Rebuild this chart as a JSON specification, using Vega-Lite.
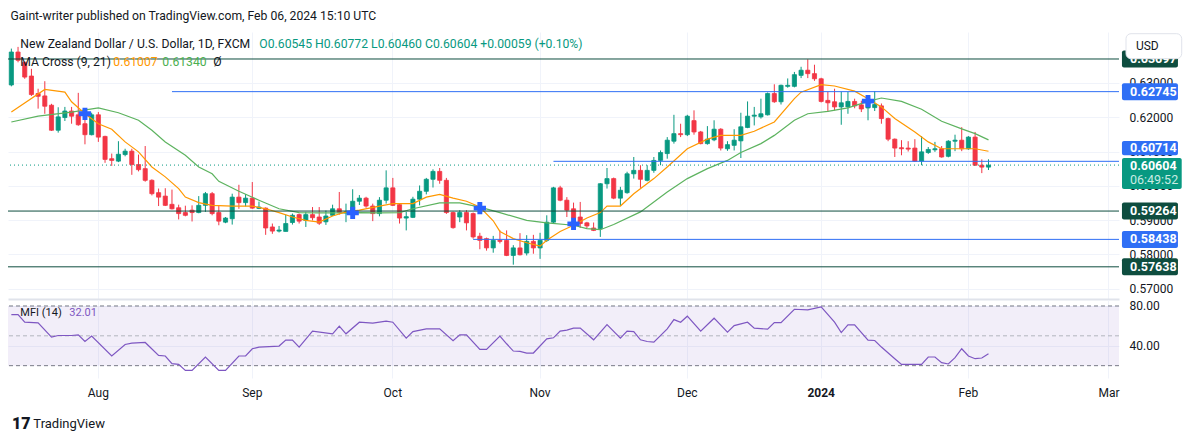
{
  "$schema": "https://vega.github.io/schema/vega-lite/v6.json",
  "background": "white",
  "padding": {"left": 7, "top": 9, "right": 0, "bottom": 0},
  "title": {"text": "Gaint-writer published on TradingView.com, Feb 06, 2024 15:10 UTC", "anchor": "start", "frame": "bounds", "font": "Roboto", "fontSize": 12.2, "fontWeight": "normal", "color": "#131722", "offset": 10, "dx": 3},
  "datasets": {
    "one": [{}],
    "candles": [
      {"d":"2023-07-13","o":0.6294,"h":0.6400,"l":0.6290,"c":0.6390},
      {"d":"2023-07-14","o":0.6390,"h":0.6405,"l":0.6360,"c":0.6366},
      {"d":"2023-07-17","o":0.6360,"h":0.6362,"l":0.6312,"c":0.6317},
      {"d":"2023-07-18","o":0.6320,"h":0.6341,"l":0.6262,"c":0.6266},
      {"d":"2023-07-19","o":0.6269,"h":0.6283,"l":0.6225,"c":0.6261},
      {"d":"2023-07-20","o":0.6262,"h":0.6305,"l":0.6210,"c":0.6232},
      {"d":"2023-07-21","o":0.6235,"h":0.6239,"l":0.6160,"c":0.6162},
      {"d":"2023-07-24","o":0.6162,"h":0.6229,"l":0.6155,"c":0.6201},
      {"d":"2023-07-25","o":0.6199,"h":0.6230,"l":0.6189,"c":0.6218},
      {"d":"2023-07-26","o":0.6218,"h":0.6230,"l":0.6181,"c":0.6203},
      {"d":"2023-07-27","o":0.6207,"h":0.6271,"l":0.6175,"c":0.6178},
      {"d":"2023-07-28","o":0.6181,"h":0.6192,"l":0.6121,"c":0.6149},
      {"d":"2023-07-31","o":0.6149,"h":0.6213,"l":0.6147,"c":0.6207},
      {"d":"2023-08-01","o":0.6207,"h":0.6215,"l":0.6128,"c":0.6142},
      {"d":"2023-08-02","o":0.6144,"h":0.6146,"l":0.6067,"c":0.6077},
      {"d":"2023-08-03","o":0.6079,"h":0.6094,"l":0.6058,"c":0.6074},
      {"d":"2023-08-04","o":0.6072,"h":0.6130,"l":0.6069,"c":0.6092},
      {"d":"2023-08-07","o":0.6091,"h":0.6108,"l":0.6086,"c":0.6101},
      {"d":"2023-08-08","o":0.6101,"h":0.6108,"l":0.6032,"c":0.6062},
      {"d":"2023-08-09","o":0.6062,"h":0.6091,"l":0.6042,"c":0.6047},
      {"d":"2023-08-10","o":0.6050,"h":0.6116,"l":0.6012,"c":0.6016},
      {"d":"2023-08-11","o":0.6016,"h":0.6019,"l":0.5972,"c":0.5977},
      {"d":"2023-08-14","o":0.5980,"h":0.5992,"l":0.5941,"c":0.5967},
      {"d":"2023-08-15","o":0.5970,"h":0.5993,"l":0.5941,"c":0.5943},
      {"d":"2023-08-16","o":0.5946,"h":0.5989,"l":0.5931,"c":0.5933},
      {"d":"2023-08-17","o":0.5936,"h":0.5945,"l":0.5902,"c":0.5919},
      {"d":"2023-08-18","o":0.5922,"h":0.5942,"l":0.5911,"c":0.5914},
      {"d":"2023-08-21","o":0.5929,"h":0.5943,"l":0.5896,"c":0.5922},
      {"d":"2023-08-22","o":0.5922,"h":0.5970,"l":0.5920,"c":0.5943},
      {"d":"2023-08-23","o":0.5943,"h":0.5982,"l":0.5924,"c":0.5977},
      {"d":"2023-08-24","o":0.5977,"h":0.5982,"l":0.5914,"c":0.5919},
      {"d":"2023-08-25","o":0.5922,"h":0.5941,"l":0.5885,"c":0.5897},
      {"d":"2023-08-28","o":0.5894,"h":0.5909,"l":0.5891,"c":0.5906},
      {"d":"2023-08-29","o":0.5904,"h":0.5977,"l":0.5887,"c":0.5967},
      {"d":"2023-08-30","o":0.5967,"h":0.6003,"l":0.5933,"c":0.5951},
      {"d":"2023-08-31","o":0.5951,"h":0.5976,"l":0.5940,"c":0.5964},
      {"d":"2023-09-01","o":0.5964,"h":0.6011,"l":0.5933,"c":0.5935},
      {"d":"2023-09-04","o":0.5934,"h":0.5954,"l":0.5932,"c":0.5938},
      {"d":"2023-09-05","o":0.5935,"h":0.5937,"l":0.5857,"c":0.5877},
      {"d":"2023-09-06","o":0.5880,"h":0.5890,"l":0.5860,"c":0.5868},
      {"d":"2023-09-07","o":0.5868,"h":0.5883,"l":0.5864,"c":0.5871},
      {"d":"2023-09-08","o":0.5867,"h":0.5916,"l":0.5867,"c":0.5890},
      {"d":"2023-09-11","o":0.5893,"h":0.5919,"l":0.5887,"c":0.5914},
      {"d":"2023-09-12","o":0.5916,"h":0.5919,"l":0.5890,"c":0.5897},
      {"d":"2023-09-13","o":0.5899,"h":0.5924,"l":0.5880,"c":0.5916},
      {"d":"2023-09-14","o":0.5916,"h":0.5938,"l":0.5899,"c":0.5907},
      {"d":"2023-09-15","o":0.5909,"h":0.5938,"l":0.5886,"c":0.5891},
      {"d":"2023-09-18","o":0.5895,"h":0.5928,"l":0.5886,"c":0.5912},
      {"d":"2023-09-19","o":0.5914,"h":0.5945,"l":0.5912,"c":0.5933},
      {"d":"2023-09-20","o":0.5933,"h":0.5982,"l":0.5916,"c":0.5922},
      {"d":"2023-09-21","o":0.5921,"h":0.5948,"l":0.5894,"c":0.5924},
      {"d":"2023-09-22","o":0.5919,"h":0.5990,"l":0.5917,"c":0.5955},
      {"d":"2023-09-25","o":0.5955,"h":0.5973,"l":0.5944,"c":0.5964},
      {"d":"2023-09-26","o":0.5964,"h":0.5968,"l":0.5936,"c":0.5941},
      {"d":"2023-09-27","o":0.5941,"h":0.5948,"l":0.5897,"c":0.5919},
      {"d":"2023-09-28","o":0.5919,"h":0.5967,"l":0.5911,"c":0.5958},
      {"d":"2023-09-29","o":0.5958,"h":0.6045,"l":0.5948,"c":0.5994},
      {"d":"2023-10-02","o":0.5994,"h":0.6023,"l":0.5941,"c":0.5943},
      {"d":"2023-10-03","o":0.5945,"h":0.5948,"l":0.5890,"c":0.5906},
      {"d":"2023-10-04","o":0.5906,"h":0.5924,"l":0.5870,"c":0.5910},
      {"d":"2023-10-05","o":0.5908,"h":0.5968,"l":0.5906,"c":0.5961},
      {"d":"2023-10-06","o":0.5961,"h":0.6001,"l":0.5943,"c":0.5984},
      {"d":"2023-10-09","o":0.5984,"h":0.6023,"l":0.5975,"c":0.6019},
      {"d":"2023-10-10","o":0.6019,"h":0.6048,"l":0.5995,"c":0.6042},
      {"d":"2023-10-11","o":0.6042,"h":0.6052,"l":0.6006,"c":0.6016},
      {"d":"2023-10-12","o":0.6016,"h":0.6023,"l":0.5918,"c":0.5922},
      {"d":"2023-10-13","o":0.5922,"h":0.5925,"l":0.5875,"c":0.5878},
      {"d":"2023-10-16","o":0.5909,"h":0.5929,"l":0.5894,"c":0.5922},
      {"d":"2023-10-17","o":0.5922,"h":0.5929,"l":0.5870,"c":0.5892},
      {"d":"2023-10-18","o":0.5919,"h":0.5922,"l":0.5846,"c":0.5851},
      {"d":"2023-10-19","o":0.5853,"h":0.5863,"l":0.5815,"c":0.5841},
      {"d":"2023-10-20","o":0.5846,"h":0.5849,"l":0.5811,"c":0.5819},
      {"d":"2023-10-23","o":0.5819,"h":0.5854,"l":0.5805,"c":0.5841},
      {"d":"2023-10-24","o":0.5841,"h":0.5870,"l":0.5832,"c":0.5838},
      {"d":"2023-10-25","o":0.5841,"h":0.5870,"l":0.5795,"c":0.5797},
      {"d":"2023-10-26","o":0.5797,"h":0.5827,"l":0.5770,"c":0.5819},
      {"d":"2023-10-27","o":0.5819,"h":0.5862,"l":0.5797,"c":0.5799},
      {"d":"2023-10-30","o":0.5804,"h":0.5856,"l":0.5797,"c":0.5838},
      {"d":"2023-10-31","o":0.5838,"h":0.5857,"l":0.5802,"c":0.5819},
      {"d":"2023-11-01","o":0.5819,"h":0.5863,"l":0.5787,"c":0.5841},
      {"d":"2023-11-02","o":0.5841,"h":0.5914,"l":0.5836,"c":0.5894},
      {"d":"2023-11-03","o":0.5894,"h":0.5997,"l":0.5890,"c":0.5994},
      {"d":"2023-11-06","o":0.5994,"h":0.6000,"l":0.5955,"c":0.5958},
      {"d":"2023-11-07","o":0.5958,"h":0.5967,"l":0.5909,"c":0.5929},
      {"d":"2023-11-08","o":0.5933,"h":0.5951,"l":0.5890,"c":0.5906},
      {"d":"2023-11-09","o":0.5909,"h":0.5953,"l":0.5877,"c":0.5890},
      {"d":"2023-11-10","o":0.5892,"h":0.5895,"l":0.5876,"c":0.5883},
      {"d":"2023-11-13","o":0.5877,"h":0.5893,"l":0.5868,"c":0.5870},
      {"d":"2023-11-14","o":0.5875,"h":0.6008,"l":0.5851,"c":0.6006},
      {"d":"2023-11-15","o":0.6006,"h":0.6052,"l":0.5992,"c":0.6021},
      {"d":"2023-11-16","o":0.6021,"h":0.6024,"l":0.5961,"c":0.5964},
      {"d":"2023-11-17","o":0.5964,"h":0.5997,"l":0.5941,"c":0.5987},
      {"d":"2023-11-20","o":0.5980,"h":0.6041,"l":0.5977,"c":0.6035},
      {"d":"2023-11-21","o":0.6035,"h":0.6084,"l":0.6021,"c":0.6045},
      {"d":"2023-11-22","o":0.6045,"h":0.6060,"l":0.5994,"c":0.6019},
      {"d":"2023-11-23","o":0.6016,"h":0.6060,"l":0.6013,"c":0.6045},
      {"d":"2023-11-24","o":0.6045,"h":0.6084,"l":0.6038,"c":0.6074},
      {"d":"2023-11-27","o":0.6074,"h":0.6103,"l":0.6060,"c":0.6097},
      {"d":"2023-11-28","o":0.6094,"h":0.6142,"l":0.6079,"c":0.6133},
      {"d":"2023-11-29","o":0.6130,"h":0.6207,"l":0.6123,"c":0.6152},
      {"d":"2023-11-30","o":0.6152,"h":0.6181,"l":0.6142,"c":0.6149},
      {"d":"2023-12-01","o":0.6149,"h":0.6207,"l":0.6145,"c":0.6203},
      {"d":"2023-12-04","o":0.6190,"h":0.6220,"l":0.6149,"c":0.6157},
      {"d":"2023-12-05","o":0.6157,"h":0.6160,"l":0.6121,"c":0.6123},
      {"d":"2023-12-06","o":0.6123,"h":0.6174,"l":0.6120,"c":0.6136},
      {"d":"2023-12-07","o":0.6134,"h":0.6191,"l":0.6130,"c":0.6165},
      {"d":"2023-12-08","o":0.6165,"h":0.6168,"l":0.6103,"c":0.6110},
      {"d":"2023-12-11","o":0.6108,"h":0.6130,"l":0.6102,"c":0.6120},
      {"d":"2023-12-12","o":0.6118,"h":0.6165,"l":0.6103,"c":0.6133},
      {"d":"2023-12-13","o":0.6131,"h":0.6213,"l":0.6081,"c":0.6172},
      {"d":"2023-12-14","o":0.6170,"h":0.6246,"l":0.6168,"c":0.6203},
      {"d":"2023-12-15","o":0.6203,"h":0.6230,"l":0.6176,"c":0.6206},
      {"d":"2023-12-18","o":0.6201,"h":0.6254,"l":0.6196,"c":0.6210},
      {"d":"2023-12-19","o":0.6207,"h":0.6272,"l":0.6205,"c":0.6269},
      {"d":"2023-12-20","o":0.6269,"h":0.6296,"l":0.6242,"c":0.6245},
      {"d":"2023-12-21","o":0.6245,"h":0.6295,"l":0.6237,"c":0.6293},
      {"d":"2023-12-22","o":0.6290,"h":0.6313,"l":0.6286,"c":0.6293},
      {"d":"2023-12-26","o":0.6290,"h":0.6332,"l":0.6287,"c":0.6324},
      {"d":"2023-12-27","o":0.6322,"h":0.6347,"l":0.6314,"c":0.6337},
      {"d":"2023-12-28","o":0.6337,"h":0.6369,"l":0.6314,"c":0.6327},
      {"d":"2023-12-29","o":0.6327,"h":0.6353,"l":0.6306,"c":0.6312},
      {"d":"2024-01-02","o":0.6312,"h":0.6315,"l":0.6243,"c":0.6246},
      {"d":"2024-01-03","o":0.6249,"h":0.6274,"l":0.6217,"c":0.6242},
      {"d":"2024-01-04","o":0.6245,"h":0.6283,"l":0.6220,"c":0.6230},
      {"d":"2024-01-05","o":0.6230,"h":0.6274,"l":0.6178,"c":0.6242},
      {"d":"2024-01-08","o":0.6230,"h":0.6274,"l":0.6210,"c":0.6246},
      {"d":"2024-01-09","o":0.6246,"h":0.6254,"l":0.6226,"c":0.6233},
      {"d":"2024-01-10","o":0.6236,"h":0.6248,"l":0.6215,"c":0.6224},
      {"d":"2024-01-11","o":0.6227,"h":0.6264,"l":0.6191,"c":0.6250},
      {"d":"2024-01-12","o":0.6228,"h":0.6276,"l":0.6218,"c":0.6237},
      {"d":"2024-01-15","o":0.6233,"h":0.6240,"l":0.6181,"c":0.6196},
      {"d":"2024-01-16","o":0.6196,"h":0.6199,"l":0.6130,"c":0.6136},
      {"d":"2024-01-17","o":0.6136,"h":0.6138,"l":0.6084,"c":0.6110},
      {"d":"2024-01-18","o":0.6111,"h":0.6133,"l":0.6089,"c":0.6108},
      {"d":"2024-01-19","o":0.6110,"h":0.6130,"l":0.6100,"c":0.6107},
      {"d":"2024-01-22","o":0.6110,"h":0.6136,"l":0.6070,"c":0.6072},
      {"d":"2024-01-23","o":0.6072,"h":0.6145,"l":0.6060,"c":0.6099},
      {"d":"2024-01-24","o":0.6097,"h":0.6113,"l":0.6093,"c":0.6106},
      {"d":"2024-01-25","o":0.6105,"h":0.6128,"l":0.6099,"c":0.6108},
      {"d":"2024-01-26","o":0.6108,"h":0.6116,"l":0.6082,"c":0.6084},
      {"d":"2024-01-29","o":0.6086,"h":0.6133,"l":0.6083,"c":0.6130},
      {"d":"2024-01-30","o":0.6130,"h":0.6149,"l":0.6101,"c":0.6133},
      {"d":"2024-01-31","o":0.6133,"h":0.6171,"l":0.6101,"c":0.6108},
      {"d":"2024-02-01","o":0.6108,"h":0.6145,"l":0.6105,"c":0.6142},
      {"d":"2024-02-02","o":0.6142,"h":0.6157,"l":0.6058,"c":0.6060},
      {"d":"2024-02-05","o":0.6060,"h":0.6077,"l":0.6037,"c":0.60545},
      {"d":"2024-02-06","o":0.60545,"h":0.60772,"l":0.60460,"c":0.60604}
    ],
    "ma9": [
      {"d":"2023-07-13","v":0.6215},{"d":"2023-07-20","v":0.6281},{"d":"2023-07-25","v":0.6273},{"d":"2023-07-26","v":0.6245},
      {"d":"2023-07-28","v":0.6210},{"d":"2023-08-01","v":0.6181},{"d":"2023-08-03","v":0.6165},{"d":"2023-08-07","v":0.6128},
      {"d":"2023-08-09","v":0.6099},{"d":"2023-08-11","v":0.6055},{"d":"2023-08-15","v":0.6026},{"d":"2023-08-17","v":0.5992},
      {"d":"2023-08-18","v":0.5967},{"d":"2023-08-22","v":0.5951},{"d":"2023-08-24","v":0.5943},{"d":"2023-08-29","v":0.5941},
      {"d":"2023-09-01","v":0.5941},{"d":"2023-09-05","v":0.5933},{"d":"2023-09-07","v":0.5922},{"d":"2023-09-11","v":0.5909},
      {"d":"2023-09-13","v":0.5899},{"d":"2023-09-15","v":0.5894},{"d":"2023-09-19","v":0.5912},{"d":"2023-09-21","v":0.5924},
      {"d":"2023-09-25","v":0.5929},{"d":"2023-09-28","v":0.5941},{"d":"2023-10-02","v":0.5948},{"d":"2023-10-05","v":0.5948},
      {"d":"2023-10-09","v":0.5967},{"d":"2023-10-11","v":0.5975},{"d":"2023-10-13","v":0.5964},{"d":"2023-10-17","v":0.5955},
      {"d":"2023-10-19","v":0.5938},{"d":"2023-10-23","v":0.5898},{"d":"2023-10-24","v":0.5867},{"d":"2023-10-26","v":0.5846},
      {"d":"2023-10-30","v":0.5834},{"d":"2023-11-01","v":0.5824},{"d":"2023-11-02","v":0.5841},{"d":"2023-11-06","v":0.5867},
      {"d":"2023-11-08","v":0.5885},{"d":"2023-11-10","v":0.5906},{"d":"2023-11-14","v":0.5922},{"d":"2023-11-15","v":0.5941},
      {"d":"2023-11-17","v":0.5941},{"d":"2023-11-21","v":0.5977},{"d":"2023-11-24","v":0.6021},{"d":"2023-11-28","v":0.6055},
      {"d":"2023-12-01","v":0.6108},{"d":"2023-12-06","v":0.6136},{"d":"2023-12-08","v":0.6147},{"d":"2023-12-13","v":0.6147},
      {"d":"2023-12-15","v":0.6159},{"d":"2023-12-20","v":0.6186},{"d":"2023-12-26","v":0.6254},{"d":"2023-12-27","v":0.6273},
      {"d":"2024-01-02","v":0.6295},{"d":"2024-01-04","v":0.6291},{"d":"2024-01-09","v":0.6276},{"d":"2024-01-11","v":0.6254},
      {"d":"2024-01-15","v":0.6230},{"d":"2024-01-17","v":0.6196},{"d":"2024-01-22","v":0.6157},{"d":"2024-01-24","v":0.6128},
      {"d":"2024-01-26","v":0.6108},{"d":"2024-01-31","v":0.6108},{"d":"2024-02-02","v":0.6108},{"d":"2024-02-06","v":0.61007}
    ],
    "ma21": [
      {"d":"2023-07-13","v":0.6186},{"d":"2023-07-19","v":0.6203},{"d":"2023-07-26","v":0.6215},{"d":"2023-08-01","v":0.6227},
      {"d":"2023-08-04","v":0.6213},{"d":"2023-08-09","v":0.6191},{"d":"2023-08-11","v":0.6162},{"d":"2023-08-15","v":0.6128},
      {"d":"2023-08-18","v":0.6089},{"d":"2023-08-22","v":0.6055},{"d":"2023-08-24","v":0.6035},{"d":"2023-08-25","v":0.6013},
      {"d":"2023-08-30","v":0.5984},{"d":"2023-09-04","v":0.5958},{"d":"2023-09-07","v":0.5933},{"d":"2023-09-12","v":0.5922},
      {"d":"2023-09-15","v":0.5921},{"d":"2023-09-20","v":0.5921},{"d":"2023-09-25","v":0.5922},{"d":"2023-09-28","v":0.5921},
      {"d":"2023-10-03","v":0.5922},{"d":"2023-10-05","v":0.5933},{"d":"2023-10-11","v":0.5950},{"d":"2023-10-16","v":0.5950},
      {"d":"2023-10-19","v":0.5938},{"d":"2023-10-24","v":0.5922},{"d":"2023-10-30","v":0.5899},{"d":"2023-11-02","v":0.5892},
      {"d":"2023-11-08","v":0.5885},{"d":"2023-11-10","v":0.5875},{"d":"2023-11-14","v":0.5872},{"d":"2023-11-16","v":0.5887},
      {"d":"2023-11-22","v":0.5924},{"d":"2023-11-28","v":0.5982},{"d":"2023-12-01","v":0.6021},{"d":"2023-12-06","v":0.6050},
      {"d":"2023-12-11","v":0.6074},{"d":"2023-12-13","v":0.6097},{"d":"2023-12-18","v":0.6123},{"d":"2023-12-20","v":0.6147},
      {"d":"2023-12-26","v":0.6191},{"d":"2023-12-28","v":0.6210},{"d":"2024-01-03","v":0.6217},{"d":"2024-01-08","v":0.6227},
      {"d":"2024-01-11","v":0.6246},{"d":"2024-01-15","v":0.6256},{"d":"2024-01-18","v":0.6246},{"d":"2024-01-23","v":0.6223},
      {"d":"2024-01-26","v":0.6188},{"d":"2024-01-31","v":0.6166},{"d":"2024-02-02","v":0.6152},{"d":"2024-02-06","v":0.6134}
    ],
    "mfi": [
      {"d":"2023-07-13","v":71.3},{"d":"2023-07-14","v":71.3},{"d":"2023-07-17","v":63.7},{"d":"2023-07-19","v":63},
      {"d":"2023-07-21","v":48.7},{"d":"2023-07-24","v":50.3},{"d":"2023-07-26","v":50.3},{"d":"2023-07-27","v":51},
      {"d":"2023-07-28","v":44.3},{"d":"2023-07-31","v":49.7},{"d":"2023-08-03","v":29.7},{"d":"2023-08-07","v":41.3},
      {"d":"2023-08-08","v":42.7},{"d":"2023-08-10","v":43.3},{"d":"2023-08-14","v":30.3},{"d":"2023-08-15","v":29.7},
      {"d":"2023-08-16","v":22},{"d":"2023-08-17","v":21.3},{"d":"2023-08-18","v":15.3},{"d":"2023-08-21","v":15.3},
      {"d":"2023-08-23","v":28.7},{"d":"2023-08-25","v":15.3},{"d":"2023-08-28","v":15.3},{"d":"2023-08-30","v":29.7},
      {"d":"2023-08-31","v":29.7},{"d":"2023-09-01","v":37},{"d":"2023-09-04","v":38.7},{"d":"2023-09-07","v":39.7},
      {"d":"2023-09-08","v":45.7},{"d":"2023-09-11","v":45.7},{"d":"2023-09-12","v":38.7},{"d":"2023-09-14","v":54.7},
      {"d":"2023-09-19","v":52},{"d":"2023-09-20","v":59.7},{"d":"2023-09-21","v":52},{"d":"2023-09-25","v":63.7},
      {"d":"2023-09-27","v":62.7},{"d":"2023-09-29","v":64.7},{"d":"2023-10-02","v":63.7},{"d":"2023-10-04","v":47.7},
      {"d":"2023-10-05","v":54.3},{"d":"2023-10-09","v":57},{"d":"2023-10-11","v":57},{"d":"2023-10-13","v":45},
      {"d":"2023-10-16","v":51},{"d":"2023-10-17","v":51},{"d":"2023-10-19","v":36.3},{"d":"2023-10-20","v":36.3},
      {"d":"2023-10-24","v":49.7},{"d":"2023-10-25","v":42},{"d":"2023-10-26","v":34.7},{"d":"2023-10-27","v":34.3},
      {"d":"2023-10-30","v":32.7},{"d":"2023-10-31","v":32.7},{"d":"2023-11-02","v":47},{"d":"2023-11-03","v":48},
      {"d":"2023-11-06","v":54.7},{"d":"2023-11-07","v":55.7},{"d":"2023-11-08","v":57.7},{"d":"2023-11-09","v":57.7},
      {"d":"2023-11-13","v":46},{"d":"2023-11-15","v":61.3},{"d":"2023-11-17","v":47.7},{"d":"2023-11-20","v":54.7},
      {"d":"2023-11-21","v":54.3},{"d":"2023-11-22","v":46},{"d":"2023-11-23","v":44.3},{"d":"2023-11-24","v":43.7},
      {"d":"2023-11-28","v":57},{"d":"2023-11-29","v":66.3},{"d":"2023-11-30","v":63.7},{"d":"2023-12-01","v":69.7},
      {"d":"2023-12-05","v":54.7},{"d":"2023-12-07","v":67.7},{"d":"2023-12-11","v":53.7},{"d":"2023-12-12","v":60.3},
      {"d":"2023-12-14","v":63.7},{"d":"2023-12-15","v":57.7},{"d":"2023-12-19","v":56.7},{"d":"2023-12-20","v":63.3},
      {"d":"2023-12-21","v":63.3},{"d":"2023-12-26","v":76.7},{"d":"2023-12-28","v":76},{"d":"2024-01-02","v":79},
      {"d":"2024-01-04","v":63.7},{"d":"2024-01-05","v":53.3},{"d":"2024-01-08","v":61},{"d":"2024-01-09","v":61},
      {"d":"2024-01-11","v":45.7},{"d":"2024-01-12","v":45.3},{"d":"2024-01-15","v":38.7},{"d":"2024-01-17","v":27},
      {"d":"2024-01-18","v":21.3},{"d":"2024-01-19","v":21.3},{"d":"2024-01-23","v":21.3},{"d":"2024-01-24","v":28.7},
      {"d":"2024-01-25","v":28.7},{"d":"2024-01-26","v":23},{"d":"2024-01-29","v":21.7},{"d":"2024-01-30","v":28},
      {"d":"2024-01-31","v":37},{"d":"2024-02-01","v":29.7},{"d":"2024-02-02","v":27},{"d":"2024-02-05","v":27.7},
      {"d":"2024-02-06","v":32.01}
    ],
    "levels": [{"p":0.63697},{"p":0.59264},{"p":0.57638}],
    "rays": [{"d":"2023-08-16","p":0.62745},{"d":"2023-11-03","p":0.60714},{"d":"2023-10-18","p":0.58438}],
    "crosses": [{"d":"2023-07-28","p":0.6210},{"d":"2023-09-22","p":0.5921},{"d":"2023-10-19","p":0.5935},{"d":"2023-11-08","p":0.5889},{"d":"2024-01-11","p":0.6247}],
    "tags": [
      {"p":0.63697,"t":"0.63697","col":"#0E4D3F"},
      {"p":0.62745,"t":"0.62745","col":"#2F6FF5"},
      {"p":0.59264,"t":"0.59264","col":"#0E4D3F"},
      {"p":0.58438,"t":"0.58438","col":"#2F6FF5"},
      {"p":0.57638,"t":"0.57638","col":"#0E4D3F"}
    ]
  },
  "spacing": 0,
  "resolve": {"scale": {"x": "shared"}, "axis": {"x": "independent"}},
  "vconcat": [
    {
      "width": 1111,
      "height": 267,
      "layer": [
        {
          "data": {"name": "candles"},
          "mark": {"type": "rule", "strokeWidth": 1},
          "encoding": {
            "x": {"field": "d", "type": "ordinal", "title": null,
              "scale": {"paddingInner": 0, "paddingOuter": 0, "domain": {"unionWith": ["2024-02-07","2024-02-08","2024-02-09","2024-02-12","2024-02-13","2024-02-14","2024-02-15","2024-02-16","2024-02-19","2024-02-20","2024-02-21","2024-02-22","2024-02-23","2024-02-26","2024-02-27","2024-02-28","2024-02-29","2024-03-01","2024-03-04"]}},
              "axis": {"orient": "bottom", "labels": false, "ticks": false, "domain": true, "domainColor": "#E0E3EB", "domainWidth": 2, "grid": true, "bandPosition": 0.5,
                "values": ["2023-08-01","2023-09-01","2023-10-02","2023-11-01","2023-12-01","2024-01-02","2024-02-01","2024-03-01"]}},
            "y": {"field": "l", "type": "quantitative", "title": null,
              "scale": {"domain": [0.567, 0.64484], "nice": false, "zero": false},
              "axis": {"orient": "right", "values": [0.57, 0.58, 0.59, 0.60, 0.61, 0.62, 0.63], "format": ".5f", "labelPadding": 10, "grid": true}},
            "y2": {"field": "h"},
            "color": {"condition": {"test": "datum.c >= datum.o", "value": "#089981"}, "value": "#F23645"}
          }
        },
        {
          "data": {"name": "candles"},
          "mark": {"type": "bar", "width": {"band": 0.62}, "strokeWidth": 0.8},
          "encoding": {
            "x": {"field": "d", "type": "ordinal", "title": null},
            "y": {"field": "o", "type": "quantitative", "title": null},
            "y2": {"field": "c"},
            "color": {"condition": {"test": "datum.c >= datum.o", "value": "#089981"}, "value": "#F23645"},
            "stroke": {"condition": {"test": "datum.c >= datum.o", "value": "#089981"}, "value": "#F23645"}
          }
        },
        {
          "data": {"name": "ma21"},
          "mark": {"type": "line", "color": "#5DB35F", "strokeWidth": 1.2},
          "encoding": {
            "x": {"field": "d", "type": "ordinal", "title": null},
            "y": {"field": "v", "type": "quantitative", "title": null}
          }
        },
        {
          "data": {"name": "ma9"},
          "mark": {"type": "line", "color": "#FF9800", "strokeWidth": 1.2},
          "encoding": {
            "x": {"field": "d", "type": "ordinal", "title": null},
            "y": {"field": "v", "type": "quantitative", "title": null}
          }
        },
        {
          "data": {"name": "levels"},
          "mark": {"type": "rule", "color": "#0E4D3F", "strokeWidth": 1},
          "encoding": {"y": {"field": "p", "type": "quantitative", "title": null}}
        },
        {
          "data": {"name": "rays"},
          "mark": {"type": "rule", "color": "#2F6FF5", "strokeWidth": 1},
          "encoding": {
            "x": {"field": "d", "type": "ordinal", "title": null},
            "x2": {"value": "width"},
            "y": {"field": "p", "type": "quantitative", "title": null}
          }
        },
        {
          "data": {"name": "one"},
          "mark": {"type": "rule", "color": "#089981", "strokeWidth": 1, "strokeDash": [1, 3]},
          "encoding": {"y": {"datum": 0.60604, "type": "quantitative", "title": null}}
        },
        {
          "data": {"name": "crosses"},
          "mark": {"type": "point", "shape": "cross", "filled": true, "size": 150, "color": "#2962FF", "opacity": 1},
          "encoding": {
            "x": {"field": "d", "type": "ordinal", "title": null},
            "y": {"field": "p", "type": "quantitative", "title": null}
          }
        },
        {
          "data": {"name": "tags"},
          "mark": {"type": "bar", "width": 56, "xOffset": 34.3, "yOffset": -8.5, "y2Offset": 8.5, "cornerRadius": 2},
          "encoding": {
            "x": {"datum": "2024-03-04", "type": "ordinal", "title": null},
            "y": {"field": "p", "type": "quantitative", "title": null},
            "y2": {"field": "p"},
            "color": {"field": "col", "type": "nominal", "scale": null, "legend": null}
          }
        },
        {
          "data": {"name": "tags"},
          "mark": {"type": "text", "align": "left", "baseline": "middle", "dx": 14.3, "font": "Roboto", "fontSize": 12.5, "fontWeight": "bold", "color": "white"},
          "encoding": {
            "x": {"datum": "2024-03-04", "type": "ordinal", "title": null},
            "y": {"field": "p", "type": "quantitative", "title": null},
            "text": {"field": "t"}
          }
        },
        {
          "data": {"name": "one"},
          "mark": {"type": "bar", "width": 56, "xOffset": 34.3, "yOffset": -20.3, "y2Offset": -6, "cornerRadius": 2, "color": "#2F6FF5"},
          "encoding": {
            "x": {"datum": "2024-03-04", "type": "ordinal", "title": null},
            "y": {"datum": 0.60714, "type": "quantitative", "title": null},
            "y2": {"datum": 0.60714}
          }
        },
        {
          "data": {"name": "one"},
          "mark": {"type": "text", "align": "left", "baseline": "middle", "dx": 14.3, "dy": -13, "font": "Roboto", "fontSize": 12.5, "fontWeight": "bold", "color": "white", "text": "0.60714"},
          "encoding": {
            "x": {"datum": "2024-03-04", "type": "ordinal", "title": null},
            "y": {"datum": 0.60714, "type": "quantitative", "title": null}
          }
        },
        {
          "data": {"name": "one"},
          "mark": {"type": "bar", "width": 59.7, "xOffset": 36.2, "yOffset": -7, "y2Offset": 24, "cornerRadius": 2, "color": "#089981"},
          "encoding": {
            "x": {"datum": "2024-03-04", "type": "ordinal", "title": null},
            "y": {"datum": 0.60604, "type": "quantitative", "title": null},
            "y2": {"datum": 0.60604}
          }
        },
        {
          "data": {"name": "one"},
          "mark": {"type": "text", "align": "left", "baseline": "middle", "dx": 14.3, "dy": 1, "font": "Roboto", "fontSize": 12.5, "fontWeight": "bold", "color": "white", "text": "0.60604"},
          "encoding": {
            "x": {"datum": "2024-03-04", "type": "ordinal", "title": null},
            "y": {"datum": 0.60604, "type": "quantitative", "title": null}
          }
        },
        {
          "data": {"name": "one"},
          "mark": {"type": "text", "align": "left", "baseline": "middle", "dx": 14.3, "dy": 15, "font": "Roboto", "fontSize": 12.5, "color": "#C9ECE4", "text": "06:49:52"},
          "encoding": {
            "x": {"datum": "2024-03-04", "type": "ordinal", "title": null},
            "y": {"datum": 0.60604, "type": "quantitative", "title": null}
          }
        },
        {
          "data": {"name": "one"},
          "mark": {"type": "bar", "width": 55.7, "xOffset": 38.2, "yOffset": 1.7, "y2Offset": 26.7, "cornerRadius": 5, "color": "white", "stroke": "#E0E3EB", "strokeWidth": 1},
          "encoding": {
            "x": {"datum": "2024-03-04", "type": "ordinal", "title": null},
            "y": {"datum": 0.64484, "type": "quantitative", "title": null},
            "y2": {"datum": 0.64484}
          }
        },
        {
          "data": {"name": "one"},
          "mark": {"type": "text", "align": "left", "baseline": "middle", "dx": 20.3, "dy": 14.2, "font": "Roboto", "fontSize": 12, "color": "#131722", "text": "USD"},
          "encoding": {
            "x": {"datum": "2024-03-04", "type": "ordinal", "title": null},
            "y": {"datum": 0.64484, "type": "quantitative", "title": null}
          }
        },
        {
          "data": {"name": "one"},
          "mark": {"type": "text", "align": "left", "baseline": "middle", "dx": 9, "dy": 12, "font": "Roboto", "fontSize": 12.2, "color": "#131722", "text": "New Zealand Dollar / U.S. Dollar, 1D, FXCM"},
          "encoding": {
            "x": {"datum": "2023-07-13", "type": "ordinal", "title": null},
            "y": {"datum": 0.64484, "type": "quantitative", "title": null}
          }
        },
        {
          "data": {"name": "one"},
          "mark": {"type": "text", "align": "left", "baseline": "middle", "dx": 248, "dy": 12, "font": "Roboto", "fontSize": 12.2, "color": "#089981", "text": "O0.60545  H0.60772  L0.60460  C0.60604  +0.00059 (+0.10%)"},
          "encoding": {
            "x": {"datum": "2023-07-13", "type": "ordinal", "title": null},
            "y": {"datum": 0.64484, "type": "quantitative", "title": null}
          }
        },
        {
          "data": {"name": "one"},
          "mark": {"type": "text", "align": "left", "baseline": "middle", "dx": 9, "dy": 29.5, "font": "Roboto", "fontSize": 12.2, "color": "#131722", "text": "MA Cross (9, 21)"},
          "encoding": {
            "x": {"datum": "2023-07-13", "type": "ordinal", "title": null},
            "y": {"datum": 0.64484, "type": "quantitative", "title": null}
          }
        },
        {
          "data": {"name": "one"},
          "mark": {"type": "text", "align": "left", "baseline": "middle", "dx": 102, "dy": 29.5, "font": "Roboto", "fontSize": 12.2, "color": "#FF9800", "text": "0.61007"},
          "encoding": {
            "x": {"datum": "2023-07-13", "type": "ordinal", "title": null},
            "y": {"datum": 0.64484, "type": "quantitative", "title": null}
          }
        },
        {
          "data": {"name": "one"},
          "mark": {"type": "text", "align": "left", "baseline": "middle", "dx": 151, "dy": 29.5, "font": "Roboto", "fontSize": 12.2, "color": "#4CAF50", "text": "0.61340"},
          "encoding": {
            "x": {"datum": "2023-07-13", "type": "ordinal", "title": null},
            "y": {"datum": 0.64484, "type": "quantitative", "title": null}
          }
        },
        {
          "data": {"name": "one"},
          "mark": {"type": "text", "align": "left", "baseline": "middle", "dx": 202, "dy": 29.5, "font": "Roboto", "fontSize": 12.2, "color": "#131722", "text": "Ø"},
          "encoding": {
            "x": {"datum": "2023-07-13", "type": "ordinal", "title": null},
            "y": {"datum": 0.64484, "type": "quantitative", "title": null}
          }
        }
      ]
    },
    {
      "width": 1111,
      "height": 78,
      "layer": [
        {
          "data": {"name": "one"},
          "mark": {"type": "rect", "color": "#7E57C2", "opacity": 0.1},
          "encoding": {
            "y": {"datum": 80, "type": "quantitative", "title": null},
            "y2": {"datum": 20}
          }
        },
        {
          "data": {"name": "one"},
          "mark": {"type": "rule", "color": "#787B86", "strokeWidth": 1, "strokeDash": [4, 3]},
          "encoding": {"y": {"datum": 80, "type": "quantitative", "title": null}}
        },
        {
          "data": {"name": "one"},
          "mark": {"type": "rule", "color": "#787B86", "strokeWidth": 1, "strokeDash": [4, 3]},
          "encoding": {"y": {"datum": 20, "type": "quantitative", "title": null}}
        },
        {
          "data": {"name": "one"},
          "mark": {"type": "rule", "color": "#B2B5BE", "strokeWidth": 1, "strokeDash": [4, 3]},
          "encoding": {"y": {"datum": 50, "type": "quantitative", "title": null}}
        },
        {
          "data": {"name": "mfi"},
          "mark": {"type": "line", "color": "#7E57C2", "strokeWidth": 1.2},
          "encoding": {
            "x": {"field": "d", "type": "ordinal", "title": null,
              "scale": {"paddingInner": 0, "paddingOuter": 0},
              "axis": {"orient": "bottom", "ticks": false, "domain": false, "grid": true, "bandPosition": 0.5, "labelPadding": 9, "labelAngle": 0, "labelAlign": "center", "labelBaseline": "top",
                "values": ["2023-08-01","2023-09-01","2023-10-02","2023-11-01","2023-12-01","2024-01-02","2024-02-01","2024-03-01"],
                "labelExpr": "['Aug','Sep','Oct','Nov','Dec','2024','Feb','Mar'][indexof(['2023-08-01','2023-09-01','2023-10-02','2023-11-01','2023-12-01','2024-01-02','2024-02-01','2024-03-01'], datum.value)]",
                "labelFontWeight": {"condition": {"test": "datum.value == '2024-01-02'", "value": "bold"}, "value": "normal"}}},
            "y": {"field": "v", "type": "quantitative", "title": null,
              "scale": {"domain": [7.6, 86], "nice": false, "zero": false},
              "axis": {"orient": "right", "values": [80, 40], "format": ".2f", "labelPadding": 10, "grid": true}}
          }
        },
        {
          "data": {"name": "one"},
          "mark": {"type": "text", "align": "left", "baseline": "middle", "dx": 9, "dy": 13, "font": "Roboto", "fontSize": 11, "color": "#131722", "text": "MFI (14)"},
          "encoding": {
            "x": {"datum": "2023-07-13", "type": "ordinal", "title": null},
            "y": {"datum": 86, "type": "quantitative", "title": null}
          }
        },
        {
          "data": {"name": "one"},
          "mark": {"type": "text", "align": "left", "baseline": "middle", "dx": 58, "dy": 13, "font": "Roboto", "fontSize": 11, "color": "#7E57C2", "text": "32.01"},
          "encoding": {
            "x": {"datum": "2023-07-13", "type": "ordinal", "title": null},
            "y": {"datum": 86, "type": "quantitative", "title": null}
          }
        },
        {
          "data": {"name": "one"},
          "mark": {"type": "text", "align": "center", "baseline": "middle", "dx": 10, "dy": 46, "font": "Roboto", "fontSize": 16, "fontWeight": 900, "color": "#131722", "text": "17"},
          "encoding": {
            "x": {"datum": "2023-07-13", "type": "ordinal", "title": null},
            "y": {"datum": 7.6, "type": "quantitative", "title": null}
          }
        },
        {
          "data": {"name": "one"},
          "mark": {"type": "text", "align": "left", "baseline": "middle", "dx": 22, "dy": 46, "font": "Roboto", "fontSize": 13, "color": "#131722", "text": "TradingView"},
          "encoding": {
            "x": {"datum": "2023-07-13", "type": "ordinal", "title": null},
            "y": {"datum": 7.6, "type": "quantitative", "title": null}
          }
        }
      ]
    }
  ],
  "config": {
    "font": "Roboto",
    "view": {"stroke": null},
    "axis": {"labelFont": "Roboto", "labelFontSize": 12, "labelColor": "#131722", "gridColor": "#F0F3FA", "domain": false, "ticks": false}
  }
}
